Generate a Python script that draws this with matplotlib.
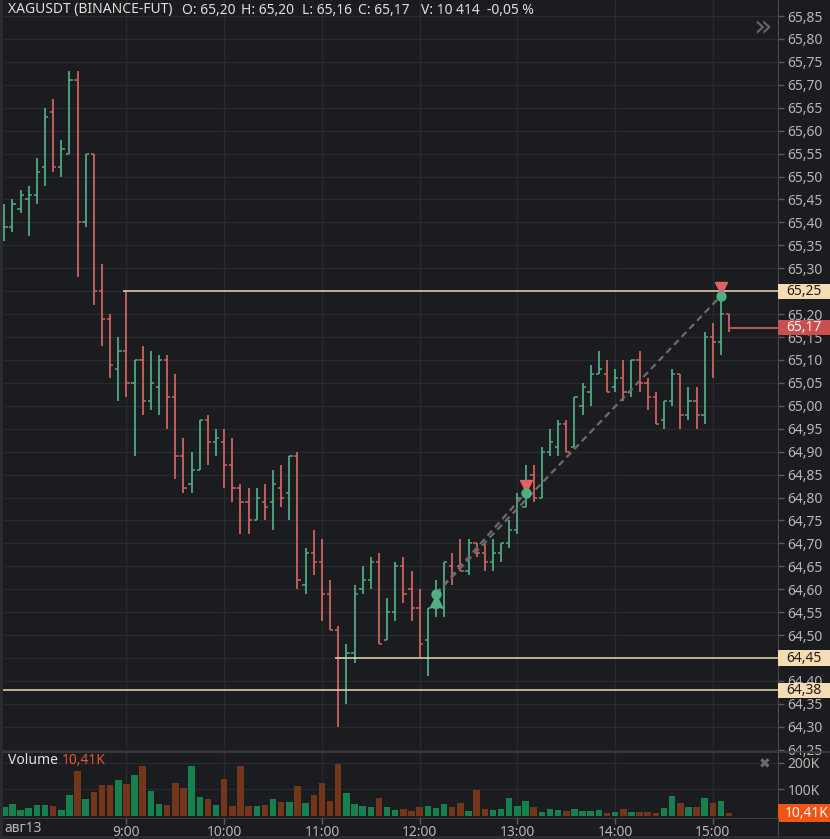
import matplotlib
matplotlib.use("Agg")
import matplotlib.pyplot as plt
import numpy as np
from matplotlib.patches import Rectangle
from matplotlib.lines import Line2D
from matplotlib.transforms import blended_transform_factory

plt.rcParams['font.family'] = ['Noto Sans', 'DejaVu Sans']

# 5-minute bars, 7:45 .. 15:10
opens = [65.39, 65.39, 65.43, 65.45, 65.46, 65.52, 65.64, 65.52, 65.55, 65.71,
         65.40, 65.55, 65.25, 65.19, 65.08, 65.12, 65.05, 65.10, 65.01, 65.04,
         65.10, 65.02, 64.89, 64.83, 64.86, 64.97, 64.92, 64.92, 64.87, 64.82,
         64.79, 64.75, 64.79, 64.79, 64.82, 64.81, 64.89, 64.61, 64.68, 64.66,
         64.59, 64.51, 64.45, 64.46, 64.60, 64.62, 64.66, 64.49, 64.55, 64.65,
         64.60, 64.56, 64.49, 64.56, 64.56, 64.65, 64.65, 64.64, 64.70, 64.68,
         64.66, 64.68, 64.70, 64.73, 64.78, 64.85, 64.80, 64.90, 64.91, 64.96,
         64.91, 65.00, 65.03, 65.07, 65.07, 65.04, 65.06, 65.03, 65.10, 65.05,
         65.02, 64.97, 65.01, 65.07, 64.98, 65.01, 64.98, 65.15, 65.14, 65.20]
highs = [65.44, 65.45, 65.47, 65.48, 65.54, 65.65, 65.67, 65.58, 65.73, 65.73,
         65.55, 65.55, 65.31, 65.20, 65.15, 65.25, 65.10, 65.13, 65.12, 65.11,
         65.11, 65.07, 64.93, 64.90, 64.97, 64.98, 64.95, 64.95, 64.93, 64.83,
         64.82, 64.82, 64.83, 64.86, 64.87, 64.89, 64.90, 64.69, 64.73, 64.71,
         64.62, 64.52, 64.48, 64.61, 64.65, 64.67, 64.68, 64.58, 64.66, 64.67,
         64.64, 64.60, 64.56, 64.62, 64.66, 64.68, 64.71, 64.71, 64.70, 64.70,
         64.71, 64.70, 64.75, 64.81, 64.87, 64.87, 64.91, 64.95, 64.97, 64.97,
         65.02, 65.05, 65.09, 65.12, 65.10, 65.08, 65.10, 65.10, 65.12, 65.06,
         65.03, 65.01, 65.08, 65.07, 65.04, 65.04, 65.16, 65.18, 65.25, 65.20]
lows = [65.36, 65.38, 65.42, 65.37, 65.44, 65.48, 65.51, 65.50, 65.55, 65.28,
        65.39, 65.22, 65.13, 65.06, 65.01, 65.02, 64.89, 64.98, 64.99, 64.98,
        64.95, 64.84, 64.81, 64.81, 64.86, 64.87, 64.89, 64.82, 64.79, 64.72,
        64.72, 64.75, 64.75, 64.73, 64.78, 64.75, 64.60, 64.59, 64.63, 64.53,
        64.51, 64.30, 64.35, 64.44, 64.59, 64.60, 64.48, 64.49, 64.53, 64.57,
        64.53, 64.45, 64.41, 64.54, 64.54, 64.61, 64.64, 64.63, 64.67, 64.64,
        64.64, 64.66, 64.69, 64.72, 64.78, 64.79, 64.80, 64.89, 64.89, 64.90,
        64.91, 64.98, 65.00, 65.07, 65.03, 65.03, 65.01, 65.02, 65.03, 64.99,
        64.96, 64.95, 65.00, 64.95, 64.97, 64.95, 64.96, 65.06, 65.11, 65.16]
closes = [65.39, 65.44, 65.46, 65.46, 65.51, 65.63, 65.52, 65.56, 65.71, 65.40,
          65.55, 65.25, 65.19, 65.09, 65.12, 65.05, 65.10, 65.01, 65.05, 65.10,
          65.02, 64.89, 64.82, 64.86, 64.97, 64.92, 64.93, 64.87, 64.82, 64.79,
          64.75, 64.80, 64.78, 64.83, 64.80, 64.89, 64.62, 64.68, 64.66, 64.59,
          64.51, 64.45, 64.46, 64.59, 64.62, 64.66, 64.48, 64.55, 64.65, 64.59,
          64.56, 64.48, 64.56, 64.56, 64.66, 64.63, 64.64, 64.70, 64.68, 64.66,
          64.68, 64.70, 64.73, 64.80, 64.81, 64.80, 64.90, 64.92, 64.96, 64.90,
          65.02, 65.04, 65.07, 65.08, 65.03, 65.06, 65.03, 65.10, 65.05, 65.02,
          64.96, 65.01, 65.07, 64.98, 65.01, 64.98, 65.15, 65.14, 65.20, 65.17]
volumes = [35, 45, 22, 30, 41, 41, 37, 22, 79, 169,
           64, 90, 116, 116, 135, 120, 154, 187, 94, 45,
           41, 125, 105, 187, 71, 64, 41, 139, 37, 187,
           37, 37, 41, 64, 52, 52, 112, 49, 79, 124,
           56, 195, 86, 45, 37, 34, 67, 34, 22, 26,
           19, 34, 37, 30, 45, 34, 49, 19, 97, 26,
           22, 26, 67, 37, 56, 34, 15, 26, 22, 19,
           26, 19, 19, 22, 11, 15, 26, 15, 15, 15,
           11, 30, 75, 49, 34, 34, 67, 49, 56, 10.414]

hour_idx = [15, 27, 39, 51, 63, 75, 87]
hour_labels = ['9:00', '10:00', '11:00', '12:00', '13:00', '14:00', '15:00']

levels = [65.25, 64.45, 64.38]
level_start = [15, 41, None]
last_price = 65.17

entry_bar, entry_price, entry_order = 53, 64.59, 64.575
exit_bars = [64, 88]
exit_prices = [64.81, 65.24]
exit_orders = [64.825, 65.257]

bg = '#1b1c1f'
grid = '#292a2e'
up = '#52a982'
down = '#cd635e'
vup = '#17804f'
vdown = '#74361a'
txt = '#b6b6b6'
beige_line = '#d9caa8'
beige_box = '#f6dcb2'
fs = 10

W, H = 830, 839
fig = plt.figure(figsize=(W / 100, H / 100), dpi=100, facecolor=bg)
L, R = 3, 778
main_top, main_bot, vol_bot = 0, 752, 818
ax = fig.add_axes([L / W, 1 - main_bot / H, (R - L) / W, (main_bot - main_top) / H])
axv = fig.add_axes([L / W, 1 - vol_bot / H, (R - L) / W, (vol_bot - main_bot) / H], sharex=ax)

x = np.arange(len(closes))
o = np.array(opens); h = np.array(highs); l = np.array(lows); c = np.array(closes)
cols = [up if cc >= oo else down for oo, cc in zip(o, c)]
vcols = [vup if cc >= oo else vdown for oo, cc in zip(o, c)]

for a in (ax, axv):
    a.set_facecolor(bg)
    for s in a.spines.values():
        s.set_visible(False)
    a.spines['right'].set_visible(True)
    a.spines['right'].set_color('#48494d')
    a.yaxis.tick_right()

ax.set_xlim(-0.16, 95.0)
ax.set_ylim(64.245, 65.885)

yt = np.round(np.arange(64.25, 65.851, 0.05), 2)
ax.set_yticks(yt)
# labels sitting exactly under a level box are covered there
ax.set_yticklabels(['' if v in levels else ('%.2f' % v).replace('.', ',') for v in yt])
ax.tick_params(axis='y', colors='#5a5b5f', labelcolor=txt, labelsize=fs, length=4, width=1, pad=3)
ax.tick_params(axis='x', length=0, labelbottom=False)
ax.set_xticks(hour_idx)
ax.grid(True, color=grid, linewidth=1)
ax.set_axisbelow(True)

ax.vlines(x, l, h, colors=cols, linewidth=1.3)
ax.hlines(o, x - 0.4, x, colors=cols, linewidth=1.1)
ax.hlines(c, x, x + 0.4, colors=cols, linewidth=1.1)

# level lines
for lv, st in zip(levels, level_start):
    x0 = -0.16 if st is None else st - 0.45
    ax.hlines(lv, x0, 95.0, colors=beige_line, linewidth=1.2, zorder=3)
ax.hlines(last_price, x[-1] + 0.3, 95.0, colors=down, linewidth=1.2, zorder=3)

# trades
for eb, ep in zip(exit_bars, exit_prices):
    ax.plot([entry_bar, eb], [entry_price, ep], color='#6c6c6e', linewidth=1.6,
            linestyle=(0, (3, 2)), zorder=4)
ax.plot(entry_bar, entry_order, '^', color='#4fae84', markersize=8, zorder=5)
ax.plot(entry_bar, entry_price, 'o', color='#4fae84', markersize=6.5, zorder=5)
for eb, ep, eo in zip(exit_bars, exit_prices, exit_orders):
    ax.plot(eb, eo, 'v', color='#e06363', markersize=8, zorder=5)
    ax.plot(eb, ep, 'o', color='#4fae84', markersize=6.5, zorder=6)

# axis labels for levels
tr = blended_transform_factory(ax.transAxes, ax.transData)
bw = (W - R) / (R - L)
bh = 15 / 458.5
for lv in levels:
    ax.add_patch(Rectangle((1.0, lv - bh / 2), bw, bh, transform=tr, facecolor=beige_box,
                           edgecolor='none', clip_on=False, zorder=10))
    ax.text(1.0 + 8 / (R - L), lv, ('%.2f' % lv).replace('.', ','), transform=tr, ha='left',
            va='center', fontsize=fs, color='#1e1e1e', clip_on=False, zorder=11)
ax.add_patch(Rectangle((1.0, last_price - bh / 2), bw, bh, transform=tr, facecolor='#c9504f',
                       edgecolor='none', clip_on=False, zorder=10))
ax.text(1.0 + 8 / (R - L), last_price, ('%.2f' % last_price).replace('.', ','), transform=tr,
        ha='left', va='center', fontsize=fs, color='#f2f2f2', clip_on=False, zorder=11)

fig.text(762 / W, 1 - 28 / H, '\u00bb', ha='center', va='center', fontsize=22,
         color='#666666', family=['DejaVu Sans'])

# volume
axv.set_ylim(-7.5, 240)
axv.bar(x, volumes, width=0.8, color=vcols)
axv.set_yticks([100, 200])
axv.set_yticklabels(['100K', '200K'])
axv.tick_params(axis='y', colors='#5a5b5f', labelcolor=txt, labelsize=fs, length=4, width=1, pad=3)
axv.set_xticks(hour_idx)
axv.set_xticklabels(hour_labels)
axv.tick_params(axis='x', colors='#5a5b5f', labelcolor=txt, labelsize=fs, length=4, width=1, pad=1)
axv.grid(True, color=grid, linewidth=1)
axv.set_axisbelow(True)
axv.spines['bottom'].set_visible(True)
axv.spines['bottom'].set_color('#3c3d41')

trv = blended_transform_factory(axv.transAxes, axv.transData)
vh = 18 / 26.7 * 100
axv.add_patch(Rectangle((1.0, volumes[-1] - vh / 2), bw, vh, transform=trv, facecolor='#f05516',
                        edgecolor='none', clip_on=False, zorder=10))
axv.text(1.0 + 7 / (R - L), volumes[-1], ('%.2fK' % volumes[-1]).replace('.', ','), transform=trv,
         ha='left', va='center', fontsize=fs, color='#f5f5f5', clip_on=False, zorder=11)

fig.text(8 / W, 1 - 761 / H, 'Volume', ha='left', va='center', fontsize=fs, color='#e2e2e2')
fig.text(62 / W, 1 - 761 / H, ('%.2fK' % volumes[-1]).replace('.', ','), ha='left', va='center',
         fontsize=fs, color='#e4572a')
fig.text(765 / W, 1 - 764 / H, '\u2716', ha='center', va='center', fontsize=10, color='#6e6e6e',
         family=['DejaVu Sans'])
fig.text(4 / W, 1 - 829 / H, 'авг13', ha='left', va='center', fontsize=fs, color=txt)

# title row
title_parts = [('XAGUSDT (BINANCE-FUT)', 8), ('O: 65,20', 182), ('H: 65,20', 241),
               ('L: 65,16', 302), ('C: 65,17', 358), ('V: 10 414', 421), ('-0,05 %', 487)]
for t, px in title_parts:
    fig.text(px / W, 1 - 10 / H, t, ha='left', va='center', fontsize=10, color='#dedede')

# frame strips and separators
fig.add_artist(Rectangle((0, 0), L / W, 1, transform=fig.transFigure, facecolor='#2a2b2f',
                         edgecolor='none'))
fig.add_artist(Rectangle((0, 0), 1, 3 / H, transform=fig.transFigure, facecolor='#2a2b2f',
                         edgecolor='none'))
fig.add_artist(Line2D([L / W, 1], [1 - main_bot / H] * 2, color='#3c3d41', linewidth=1.2))
fig.add_artist(Line2D([R / W] * 2, [3 / H, 1 - vol_bot / H], color='#48494d', linewidth=0.8))

fig.savefig('out.png', dpi=100, facecolor=bg)
